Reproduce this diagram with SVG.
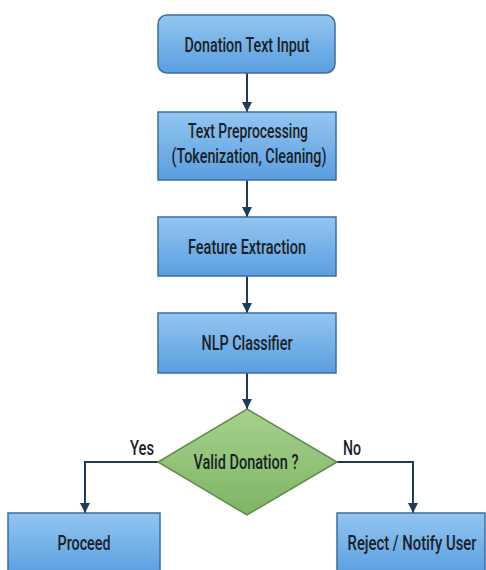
<svg xmlns="http://www.w3.org/2000/svg" width="486" height="570" viewBox="0 0 486 570">
<style>
.box{fill:url(#gBlue);stroke:#3d6e9e;stroke-width:1.5}
.dia{fill:url(#gGreen);stroke:#5e8c4c;stroke-width:1.5}
.lbl{font-family:Roboto,"Liberation Sans",sans-serif;font-weight:500;font-size:21px;fill:#1b1f26;text-anchor:middle}
.edge{fill:none;stroke:#1f3b5c;stroke-width:2}
</style>
<defs>
<linearGradient id="gBlue" x1="0" y1="0" x2="0" y2="1">
<stop offset="0" stop-color="#93c6f0"/>
<stop offset="1" stop-color="#5a9ee0"/>
</linearGradient>
<linearGradient id="gGreen" x1="0" y1="0" x2="0" y2="1">
<stop offset="0" stop-color="#a6d18e"/>
<stop offset="1" stop-color="#7db563"/>
</linearGradient>
<marker id="arr" viewBox="0 0 10 10" refX="10" refY="5" markerWidth="5" markerHeight="6" markerUnits="strokeWidth" orient="auto">
<path d="M0,0 L10,5 L0,10 z" fill="#1f3b5c"/>
</marker>
</defs>
<rect width="486" height="570" fill="#ffffff"/>
<g id="connectors">
<line class="edge" x1="247" y1="73" x2="247" y2="112" marker-end="url(#arr)"/>
<line class="edge" x1="247" y1="180" x2="247" y2="217" marker-end="url(#arr)"/>
<line class="edge" x1="247" y1="276" x2="247" y2="313" marker-end="url(#arr)"/>
<line class="edge" x1="247" y1="373" x2="247" y2="409" marker-end="url(#arr)"/>
<polyline class="edge" points="158,462 85,462 85,513" marker-end="url(#arr)"/>
<polyline class="edge" points="337,462 413,462 413,513" marker-end="url(#arr)"/>
<text class="lbl" x="142" y="455" textLength="24" lengthAdjust="spacingAndGlyphs">Yes</text>
<text class="lbl" x="352" y="455" textLength="18" lengthAdjust="spacingAndGlyphs">No</text>
</g>
<g id="n1">
<rect class="box" x="158" y="15" width="177" height="58" rx="9"/>
<text class="lbl" x="247" y="52" textLength="125" lengthAdjust="spacingAndGlyphs">Donation Text Input</text>
</g>
<g id="n2">
<rect class="box" x="158" y="112" width="178" height="68"/>
<text class="lbl" x="248" y="138" textLength="120" lengthAdjust="spacingAndGlyphs">Text Preprocessing</text>
<text class="lbl" x="249" y="163" textLength="155" lengthAdjust="spacingAndGlyphs">(Tokenization, Cleaning)</text>
</g>
<g id="n3">
<rect class="box" x="158" y="217" width="178" height="59"/>
<text class="lbl" x="247" y="254" textLength="118" lengthAdjust="spacingAndGlyphs">Feature Extraction</text>
</g>
<g id="n4">
<rect class="box" x="158" y="313" width="178" height="60"/>
<text class="lbl" x="247" y="350" textLength="91" lengthAdjust="spacingAndGlyphs">NLP Classifier</text>
</g>
<g id="n5">
<polygon class="dia" points="247,409 337,462 247,515 158,462"/>
<text class="lbl" x="246" y="469" textLength="105" lengthAdjust="spacingAndGlyphs">Valid Donation ?</text>
</g>
<g id="n6">
<rect class="box" x="8" y="513" width="152" height="62"/>
<text class="lbl" x="84" y="550" textLength="53" lengthAdjust="spacingAndGlyphs">Proceed</text>
</g>
<g id="n7">
<rect class="box" x="337" y="513" width="148" height="62"/>
<text class="lbl" transform="translate(412,550) scale(0.72,1)" x="0" y="0" textLength="179" lengthAdjust="spacingAndGlyphs">Reject / Notify User</text>
</g>
</svg>
